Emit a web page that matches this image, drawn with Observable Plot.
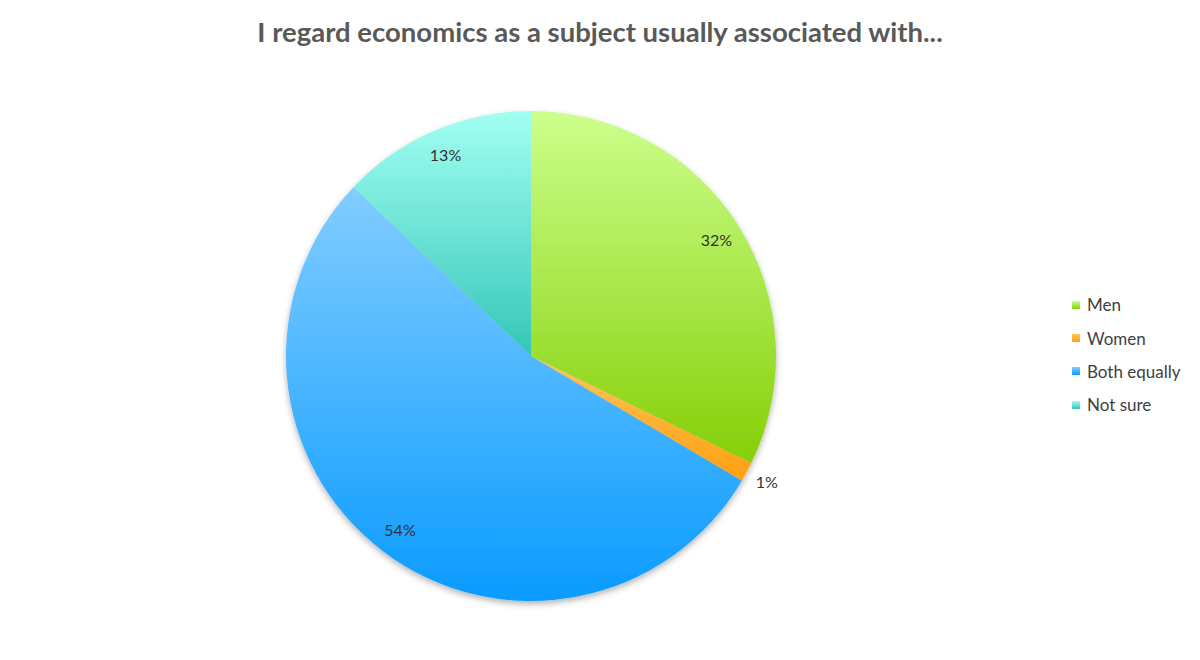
<!DOCTYPE html>
<html>
<head>
<meta charset="utf-8">
<script src="https://cdn.jsdelivr.net/npm/d3@7"></script>
<script src="https://cdn.jsdelivr.net/npm/@observablehq/plot@0.6"></script>
<style>
  html, body { margin: 0; padding: 0; background: #fff; }
  #wrap { position: relative; width: 1200px; height: 660px; overflow: hidden; }
  #title { height: 60px; line-height: 64px; text-align: center; font-family: Lato, "Open Sans", sans-serif; font-weight: bold; font-size: 27.5px; color: #595959; }
  #legend { position: absolute; left: 1072px; top: 288px; font-family: Lato, "Open Sans", sans-serif; font-size: 17px; color: #404040; }
  .li { height: 33.4px; display: flex; align-items: center; }
  .sw { width: 8px; height: 8px; margin-right: 7px; }
</style>
</head>
<body>
<div id="wrap">
  <div id="title">I regard economics as a subject usually associated with...</div>
  <div id="chart"></div>
  <div id="legend"></div>
</div>
<script>
const categories = ["Men", "Women", "Both equally", "Not sure"];
const values = [32.2, 1.3, 53.6, 12.9];
const labels = ["32%", "1%", "54%", "13%"];
const colorsTop = ["#ccff8c", "#ffc65a", "#82cdff", "#a2fff2"];
const colorsBottom = ["#86cf08", "#ff9f10", "#0a9bff", "#34c6b8"];

const data = categories.map((c, i) => ({category: c, value: values[i], label: labels[i], i}));
const pie = d3.pie().value(d => d.value).sort(null)(data);
pie.forEach(p => {
  const mid = (p.startAngle + p.endAngle) / 2;
  const r = p.data.value < 3 ? 1.09 : 0.89;
  p.data.lx = r * Math.sin(mid);
  p.data.ly = r * Math.cos(mid);
});

function slices(index, scales, values, dimensions, context) {
  const cx = scales.x(0), cy = scales.y(0);
  const R = scales.x(1) - scales.x(0);
  const g = d3.create("svg:g");
  const defs = g.append("defs");
  const f = defs.append("filter").attr("id", "shadow").attr("x", "-10%").attr("y", "-10%").attr("width", "120%").attr("height", "125%");
  f.append("feDropShadow").attr("dx", 0).attr("dy", 3).attr("stdDeviation", 3).attr("flood-color", "#000").attr("flood-opacity", 0.3);
  data.forEach((d, i) => {
    const lg = defs.append("linearGradient").attr("id", "grad" + i).attr("x1", 0).attr("y1", 0).attr("x2", 0).attr("y2", 1);
    lg.append("stop").attr("offset", "0%").attr("stop-color", colorsTop[i]);
    lg.append("stop").attr("offset", "100%").attr("stop-color", colorsBottom[i]);
  });
  const arc = d3.arc().innerRadius(0).outerRadius(R);
  const pg = g.append("g").attr("transform", `translate(${cx},${cy})`).attr("filter", "url(#shadow)");
  pg.selectAll("path").data(pie).join("path")
    .attr("d", arc)
    .attr("fill", d => `url(#grad${d.data.i})`);
  return g.node();
}

const chart = Plot.plot({
  width: 1200,
  height: 600,
  margin: 0,
  x: {domain: [-1, 1], range: [286, 776], axis: null},
  y: {domain: [-1, 1], range: [541, 51], axis: null},
  marks: [
    slices,
    Plot.text(data, {x: "lx", y: "ly", text: "label", fontSize: 16, fill: "#333333", fontFamily: "Lato, 'Open Sans', sans-serif"})
  ]
});
document.getElementById("chart").appendChild(chart);

const legend = document.getElementById("legend");
categories.forEach((c, i) => {
  const row = document.createElement("div");
  row.className = "li";
  const sw = document.createElement("div");
  sw.className = "sw";
  sw.style.background = `linear-gradient(${colorsTop[i]}, ${colorsBottom[i]})`;
  row.appendChild(sw);
  const t = document.createElement("span");
  t.textContent = c;
  row.appendChild(t);
  legend.appendChild(row);
});
</script>
</body>
</html>
